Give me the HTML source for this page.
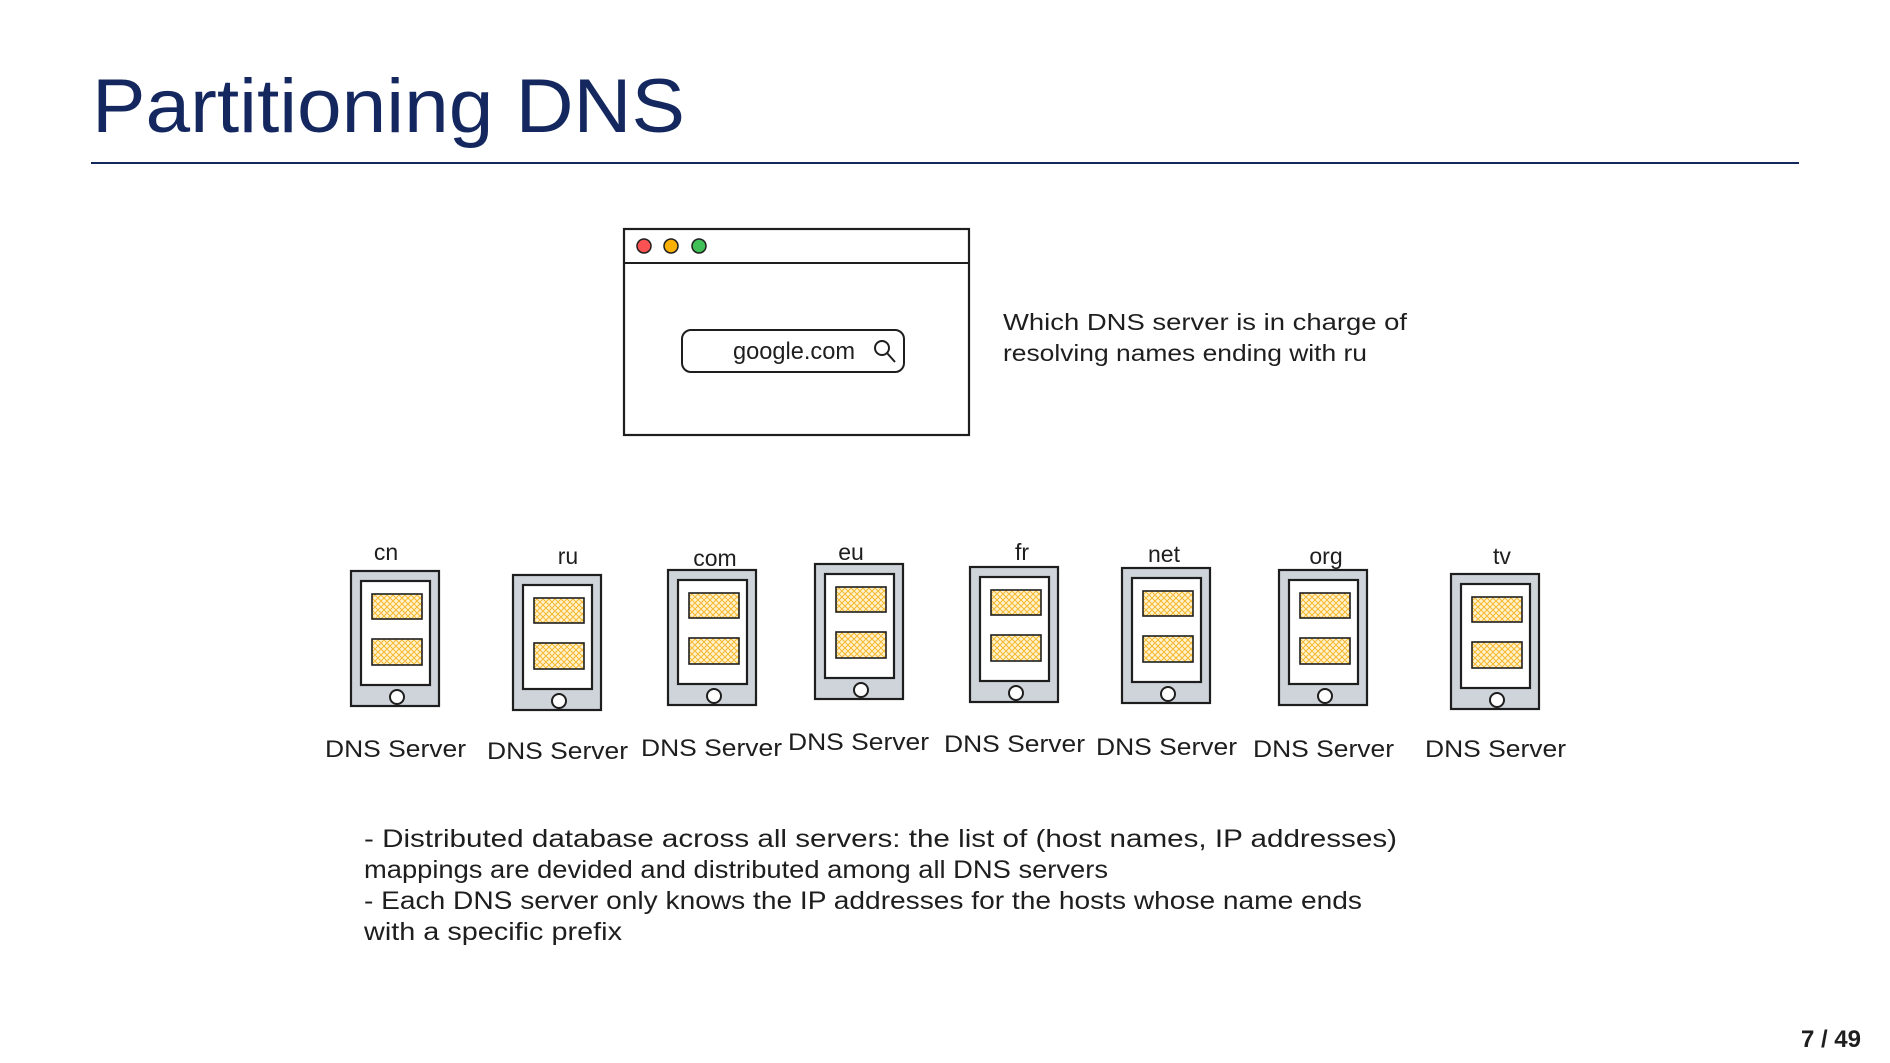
<!DOCTYPE html>
<html><head><meta charset="utf-8"><style>
html,body{margin:0;padding:0;background:#fff;}
svg{display:block}
.h{font-family:"Liberation Sans","DejaVu Sans",sans-serif;fill:#1e1e1e;}
</style></head><body>
<svg width="1890" height="1063" viewBox="0 0 1890 1063" xmlns="http://www.w3.org/2000/svg">
<defs>
<pattern id="hat" width="6" height="6" patternUnits="userSpaceOnUse">
<rect width="6" height="6" fill="#fff3d0"/>
<path d="M0 0L6 6M6 0L0 6" stroke="#f5b82e" stroke-width="1"/>
</pattern>
<g id="srv">
<rect x="0" y="0" width="88" height="135" fill="#ced4da" stroke="#1e1e1e" stroke-width="2.2"/>
<rect x="10" y="10" width="69" height="104" fill="#fff" stroke="#1e1e1e" stroke-width="2.2"/>
<rect x="21" y="23" width="50" height="25" fill="url(#hat)" stroke="#1e1e1e" stroke-width="1.6"/>
<rect x="21" y="68" width="50" height="26" fill="url(#hat)" stroke="#1e1e1e" stroke-width="1.6"/>
<circle cx="46" cy="126" r="7" fill="#fff" stroke="#1e1e1e" stroke-width="2"/>
</g>
</defs>
<text x="92" y="132" font-family="Liberation Sans, sans-serif" font-size="76" fill="#14285f" textLength="593" lengthAdjust="spacingAndGlyphs">Partitioning DNS</text>
<rect x="91" y="162" width="1708" height="2" fill="#14285f"/>

<rect x="624" y="229" width="345" height="206" fill="#fff" stroke="#1e1e1e" stroke-width="2.2"/>
<line x1="624" y1="263" x2="969" y2="263" stroke="#1e1e1e" stroke-width="2"/>
<circle cx="644" cy="246" r="7" fill="#fa5252" stroke="#1e1e1e" stroke-width="1.5"/>
<circle cx="671" cy="246" r="7" fill="#fab005" stroke="#1e1e1e" stroke-width="1.5"/>
<circle cx="699" cy="246" r="7" fill="#40c057" stroke="#1e1e1e" stroke-width="1.5"/>
<rect x="682" y="330" width="222" height="42" rx="9" fill="#fff" stroke="#1e1e1e" stroke-width="2"/>
<text class="h" x="733" y="359" font-size="24" textLength="122" lengthAdjust="spacingAndGlyphs">google.com</text>
<circle cx="882" cy="348" r="7" fill="none" stroke="#1e1e1e" stroke-width="2"/>
<line x1="887" y1="353" x2="895" y2="362" stroke="#1e1e1e" stroke-width="2"/>

<text class="h" x="1003" y="330" font-size="23" textLength="404" lengthAdjust="spacingAndGlyphs">Which DNS server is in charge of</text>
<text class="h" x="1003" y="361" font-size="23" textLength="364" lengthAdjust="spacingAndGlyphs">resolving names ending with ru</text>

<use href="#srv" x="351" y="571"/>
<use href="#srv" x="513" y="575"/>
<use href="#srv" x="668" y="570"/>
<use href="#srv" x="815" y="564"/>
<use href="#srv" x="970" y="567"/>
<use href="#srv" x="1122" y="568"/>
<use href="#srv" x="1279" y="570"/>
<use href="#srv" x="1451" y="574"/>

<g class="h" font-size="23" text-anchor="middle">
<text x="386" y="560">cn</text>
<text x="568" y="564">ru</text>
<text x="715" y="566">com</text>
<text x="851" y="560">eu</text>
<text x="1022" y="560">fr</text>
<text x="1164" y="562">net</text>
<text x="1326" y="564">org</text>
<text x="1502" y="564">tv</text>
</g>
<g class="h" font-size="24">
<text x="325" y="757" textLength="141" lengthAdjust="spacingAndGlyphs">DNS Server</text>
<text x="487" y="759" textLength="141" lengthAdjust="spacingAndGlyphs">DNS Server</text>
<text x="641" y="756" textLength="141" lengthAdjust="spacingAndGlyphs">DNS Server</text>
<text x="788" y="750" textLength="141" lengthAdjust="spacingAndGlyphs">DNS Server</text>
<text x="944" y="752" textLength="141" lengthAdjust="spacingAndGlyphs">DNS Server</text>
<text x="1096" y="755" textLength="141" lengthAdjust="spacingAndGlyphs">DNS Server</text>
<text x="1253" y="757" textLength="141" lengthAdjust="spacingAndGlyphs">DNS Server</text>
<text x="1425" y="757" textLength="141" lengthAdjust="spacingAndGlyphs">DNS Server</text>
</g>

<g class="h" font-size="25">
<text x="364" y="847" textLength="1033" lengthAdjust="spacingAndGlyphs">- Distributed database across all servers: the list of (host names, IP addresses)</text>
<text x="364" y="878" textLength="744" lengthAdjust="spacingAndGlyphs">mappings are devided and distributed among all DNS servers</text>
<text x="364" y="909" textLength="998" lengthAdjust="spacingAndGlyphs">- Each DNS server only knows the IP addresses for the hosts whose name ends</text>
<text x="364" y="940" textLength="258" lengthAdjust="spacingAndGlyphs">with a specific prefix</text>
</g>

<text x="1861" y="1047" text-anchor="end" font-family="Liberation Sans, sans-serif" font-weight="bold" font-size="24" fill="#1e1e1e">7 / 49</text>
</svg>
</body></html>
